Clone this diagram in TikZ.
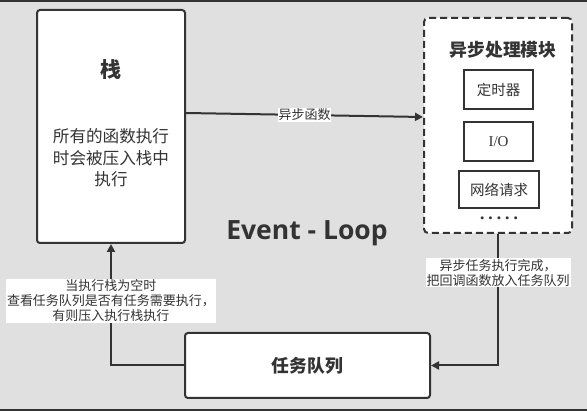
\documentclass[tikz,border=0pt]{standalone}
\usepackage{fontspec}
\setmainfont{Open Sans}
\newfontfamily\cjk{Noto Sans CJK SC}
\newfontfamily\serifx{Liberation Serif}
\usetikzlibrary{arrows.meta}
\definecolor{bgc}{RGB}{224,224,224}
\definecolor{ink}{RGB}{51,51,51}
\tikzset{
  box/.style={draw=ink, line width=2pt, fill=white, rounded corners=3pt, inner sep=0pt},
  dbox/.style={draw=ink, line width=2pt, fill=white, rounded corners=4pt, dash pattern=on 7pt off 4pt, inner sep=0pt},
  sbox/.style={draw=ink, line width=1.6pt, fill=white, inner sep=0pt, font=\cjk\fontsize{14.5}{16}\selectfont, text=ink},
  arr/.style={draw=ink, line width=2pt, -{Triangle[length=8pt,width=8pt]}},
  lbl/.style={fill=white, inner sep=1pt, text=ink, align=center, font=\cjk\fontsize{13}{15}\selectfont},
  txt/.style={text=ink, align=center, inner sep=0pt}
}
\begin{document}
\begin{tikzpicture}[x=1pt,y=-1pt]
\fill[bgc] (0,0) rectangle (587,411);
\fill[ink] (0,0) rectangle (587,2);
\fill[ink] (0,409) rectangle (587,411);
\useasboundingbox (0,0) rectangle (587,411);

% stack
\node[box, minimum width=148pt, minimum height=233pt] (stack) at (111,126.5) {};
\node[txt, font=\cjk\bfseries\fontsize{21}{23}\selectfont] (stacktitle) at (111,70) {栈};
\node[txt, font=\cjk\fontsize{16.6}{21.5}\selectfont] (stackbody) at (111,158) {所有的函数执行\\时会被压入栈中\\执行};

% async module
\node[dbox, minimum width=148pt, minimum height=215pt] (async) at (498,125.5) {};
\node[txt, font=\cjk\bfseries\fontsize{17.8}{20}\selectfont] (asynctitle) at (503,50) {异步处理模块};
\node[sbox, minimum width=69pt, minimum height=39pt] (timer) at (498.5,89.5) {定时器};
\node[sbox, minimum width=69pt, minimum height=39pt, font=\serifx\fontsize{15}{17}\selectfont] (io) at (498.5,141.5) {I/O};
\node[sbox, minimum width=80pt, minimum height=37pt] (net) at (499,189.5) {网络请求};
\node[txt, font=\bfseries\fontsize{17}{18}\selectfont] (dots) at (499,218) {.\kern3.5pt.\kern3.5pt.\kern3.5pt.\kern3.5pt.};

% queue
\node[box, minimum width=245pt, minimum height=65pt, font=\cjk\bfseries\fontsize{17.8}{20}\selectfont, text=ink] (queue) at (307.5,365.5) {任务队列};

% title
\node[txt, font=\bfseries\fontsize{26.5}{28}\selectfont] (title) at (307,233) {Event - Loop};

% connectors
\draw[arr] ([yshift=13.5pt]stack.east) -- node[lbl, inner sep=0.5pt] {异步函数} ([yshift=8.5pt]async.west);
\draw[arr] (async.south) |- node[lbl, pos=0.147] {异步任务执行完成，\\把回调函数放入任务队列} (queue.east);
\draw[arr] (queue.west) -| node[lbl, pos=0.767] {当执行栈为空时\\查看任务队列是否有任务需要执行，\\有则压入执行栈执行} (stack.south);
\end{tikzpicture}
\end{document}
